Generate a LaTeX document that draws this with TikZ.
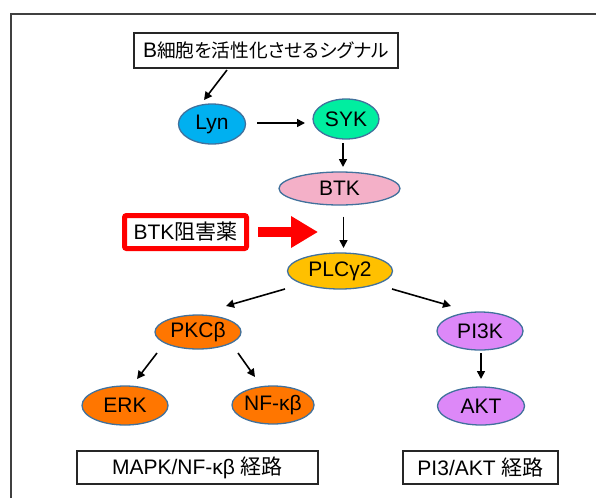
\documentclass[tikz,border=0pt]{standalone}
\usepackage{fontspec}
\setmainfont{Liberation Sans}
\newfontfamily\cjk{Noto Sans CJK JP}
\newfontfamily\cjkp{Noto Sans CJK JP}[RawFeature=+palt, Scale=0.89]
\usetikzlibrary{shapes.geometric,arrows.meta,calc}
\definecolor{ellborder}{RGB}{65,113,156}
\definecolor{lyncol}{RGB}{0,176,240}
\definecolor{sykcol}{RGB}{0,238,160}
\definecolor{btkcol}{RGB}{244,176,200}
\definecolor{plccol}{RGB}{255,192,0}
\definecolor{pkccol}{RGB}{255,118,0}
\definecolor{pikcol}{RGB}{221,136,248}
\definecolor{framecol}{RGB}{64,64,64}
\begin{document}
\begin{tikzpicture}[x=1pt,y=-1pt,
  ell/.style={ellipse, draw=ellborder, line width=1.3pt, inner sep=0pt, font=\fontsize{21}{24}\selectfont},
  pathbox/.style={rectangle, draw=black!85, line width=1.3pt, inner sep=0pt, font=\fontsize{21}{24}\selectfont},
  arr/.style={-{Triangle[length=8pt,width=8pt]}, line width=1.6pt}]
\useasboundingbox (0,0) rectangle (596,498);
\draw[framecol, line width=1.5pt] (11,498) -- (11,14) -- (596,14);

\node[pathbox, minimum width=264pt, minimum height=35pt] (title) at (266,50.5) {B{\cjkp 細胞を活性化させるシグナル}};
\node[ell, fill=lyncol, minimum width=67pt, minimum height=40pt] (lyn) at (212,124) {Lyn};
\node[ell, fill=sykcol, minimum width=66pt, minimum height=40pt] (syk) at (346,119) {SYK};
\node[ell, fill=btkcol, minimum width=121pt, minimum height=33pt] (btk) at (339.5,188.5) {BTK};
\node[ell, fill=plccol, minimum width=105pt, minimum height=36pt] (plc) at (340,271) {PLCγ2};
\node[rectangle, draw=red, line width=5pt, rounded corners=2pt, fill=white, inner sep=0pt,
  minimum width=122pt, minimum height=33pt, font=\fontsize{21}{24}\selectfont] (inhib) at (185.5,232) {BTK{\cjk 阻害薬}};
\node[ell, fill=pkccol, minimum width=86pt, minimum height=34pt] (pkc) at (198,332) {PKCβ};
\node[ell, fill=pkccol, minimum width=86pt, minimum height=39pt] (erk) at (125,405.5) {ERK};
\node[ell, fill=pkccol, minimum width=82pt, minimum height=38pt] (nfkb) at (273,405) {NF-κβ};
\node[ell, fill=pikcol, minimum width=86pt, minimum height=38pt] (pi3k) at (480,331) {PI3K};
\node[ell, fill=pikcol, minimum width=87pt, minimum height=38pt] (akt) at (481,406) {AKT};
\node[pathbox, minimum width=241pt, minimum height=33pt] (mapk) at (197.5,467.5) {MAPK/NF-κβ {\cjk 経路}};
\node[pathbox, minimum width=155pt, minimum height=33pt] (piakt) at (480.5,467.5) {PI3/AKT {\cjk 経路}};

\coordinate (redtip) at (318,232);
\draw[red, line width=10pt, -{Triangle[length=27pt,width=30pt]}] ([xshift=9pt]inhib.east) -- (redtip);

\draw[arr] ($(title)+(-39,19.5)$) -- ($(lyn)+(-8,-24)$);
\draw[arr] ($(lyn)+(45,-1)$) -- ($(syk)+(-41,4)$);
\draw[arr] ($(syk)+(-3,24)$) -- ($(btk)+(3.5,-21.5)$);
\draw[arr] ($(btk)+(4,28)$) -- ($(plc)+(3.5,-23)$);
\draw[arr] ($(plc)+(-55,18)$) -- ($(pkc)+(28,-26)$);
\draw[arr] ($(plc)+(52,18)$) -- ($(pi3k)+(-29,-25)$);
\draw[arr] ($(pkc)+(-41,21)$) -- ($(erk)+(12,-26.5)$);
\draw[arr] ($(pkc)+(40,21)$) -- ($(nfkb)+(-18,-28)$);
\draw[arr] ($(pi3k)+(1,22)$) -- ($(akt)+(0,-27)$);
\end{tikzpicture}
\end{document}
